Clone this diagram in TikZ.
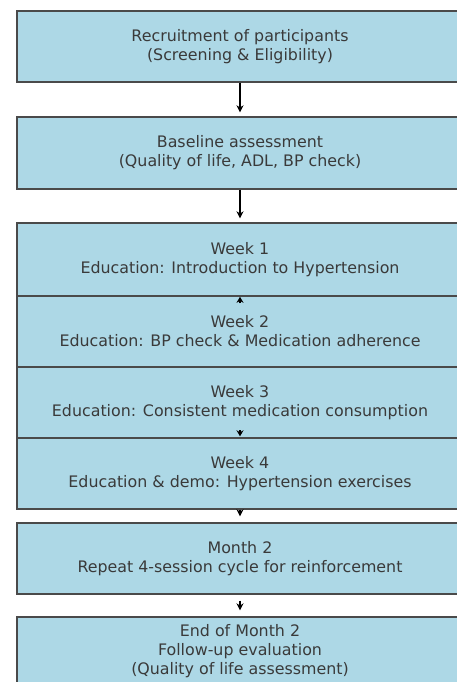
\documentclass[tikz,border=0pt]{standalone}
\usepackage{fontspec}
\setmainfont{DejaVu Sans}
\usetikzlibrary{arrows.meta,calc}
\definecolor{boxfill}{HTML}{ADD8E6}
\definecolor{boxline}{HTML}{4A4A4A}
\definecolor{txt}{HTML}{3A3A3A}
\begin{document}
\begin{tikzpicture}[x=1pt,y=-1pt,
  stage/.style={draw=boxline, line width=1.4pt, fill=boxfill, minimum width=446pt,
    minimum height=71pt, inner sep=0pt, align=center, text=txt,
    font=\fontsize{15.85}{19}\selectfont},
  arr/.style={-{Stealth[length=7pt,width=7pt]}, line width=1.2pt, black},
  tiny/.style={-{Stealth[length=6pt,width=7pt,inset=2pt]}, line width=1.4pt, black}]
\clip (0,0) rectangle (457,682);
\node[stage] (b1) at (240,46.5) {Recruitment of participants\\(Screening \& Eligibility)};
\node[stage, minimum height=72pt] (b2) at (240,153) {Baseline assessment\\(Quality of life, ADL, BP check)};
\node[stage, minimum height=73pt] (w1) at (240,259.5) {Week 1\\Education: Introduction to Hypertension};
\node[stage] (w2) at (240,331.5) {Week 2\\Education: BP check \& Medication adherence};
\node[stage] (w3) at (240,402.5) {Week 3\\Education: Consistent medication consumption};
\node[stage] (w4) at (240,473.5) {Week 4\\Education \& demo: Hypertension exercises};
\node[stage] (m2) at (240,558.5) {Month 2\\Repeat 4-session cycle for reinforcement};
\node[stage, minimum height=68pt] (fin) at (240,651) {End of Month 2\\Follow-up evaluation\\(Quality of life assessment)};
\draw[arr, shorten >=4pt] (b1) -- (b2);
\draw[arr, shorten >=4pt] (b2) -- (w1);
\draw[tiny] ($(w2.north)+(0,8)$) -- ($(w2.north)+(0,1.5)$);
\draw[tiny] ($(w4.north)+(0,-7)$) -- ($(w4.north)+(0,-1)$);
\draw[arr, shorten >=6pt] (w4) -- (m2);
\draw[arr, shorten <=6pt, shorten >=6pt] (m2) -- (fin);
\end{tikzpicture}
\end{document}
